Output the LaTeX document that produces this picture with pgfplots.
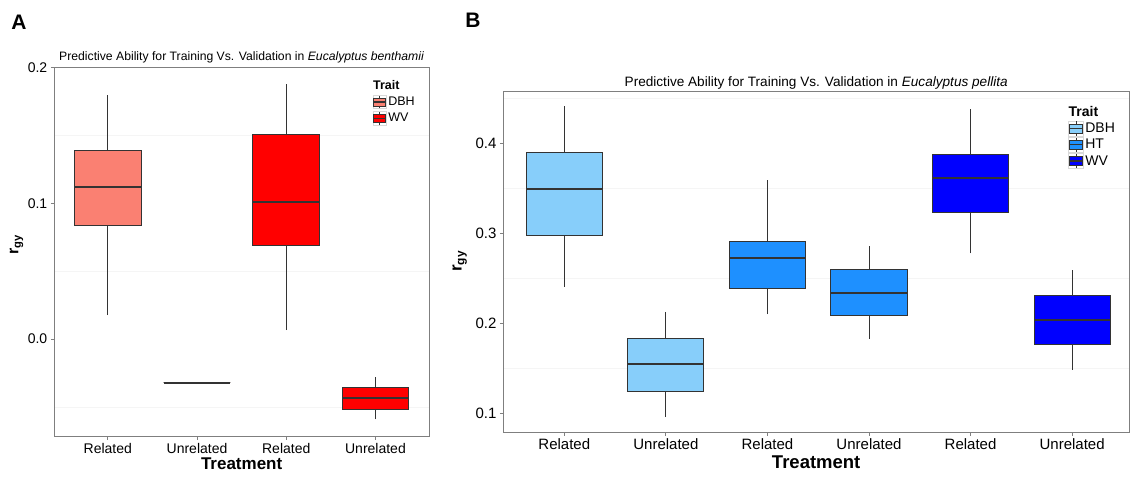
\documentclass[border=0pt]{standalone}
\usepackage{fontspec}
\setmainfont{Liberation Sans}
\usepackage{pgfplots}
\pgfplotsset{compat=1.18}
\usepgfplotslibrary{statistics}

\definecolor{salmon}{HTML}{FA8072}
\definecolor{lsb}{HTML}{87CEFA}
\definecolor{dodger}{HTML}{1E90FF}
\definecolor{bord}{HTML}{333333}
\definecolor{frame}{HTML}{7F7F7F}

\pgfplotsset{
  ggbox/.style={
    scale only axis,
    axis line style={frame, line width=0.8pt},
    tick style={frame, line width=0.8pt},
    tick align=outside, tick pos=left,
    major tick length=3.5pt, minor tick length=0pt,
    yminorgrids=true, ymajorgrids=false,
    minor grid style={black!4, line width=0.6pt},
    yticklabel style={/pgf/number format/.cd, fixed, fixed zerofill, precision=1, assume math mode=true},
    boxplot/draw direction=y,
    boxplot/whisker extend=0,
    boxplot/box extend=0.75,
    boxplot/every median/.style={line width=2pt, draw=bord},
    boxplot/every box/.style={line width=1pt, draw=bord},
    boxplot/every whisker/.style={line width=0.8pt, draw=bord},
    legend cell align=left,
  },
  bx/.style={draw=bord, line width=0.8pt, fill=#1, forget plot},
  legkey/.style args={#1/#2}{legend image code/.code={
    \draw[draw=black!15, fill=white, line width=0.6pt] (0pt,-#2) rectangle (2*#2,#2);
    \draw[draw=bord, fill=#1, line width=0.6pt] (0.12*#2,-0.6*#2) rectangle (1.88*#2,0.6*#2);
    \draw[bord, line width=0.6pt] (#2,-0.95*#2) -- (#2,-0.6*#2) (#2,0.6*#2) -- (#2,0.95*#2);
    \draw[bord, line width=1.2pt] (0.12*#2,0pt) -- (1.88*#2,0pt);
  }},
  legtitle/.style args={#1/#2}{legend image code/.code={
    \path[draw=none, fill=none] (0pt,-#2) rectangle (2*#2,#2);
    \node[overlay, draw=none, fill=none, anchor=west, inner sep=0pt, font=\bfseries#1] at (0pt,0pt) {Trait};
  }},
}

\begin{document}
\begin{tikzpicture}[x=1pt,y=1pt]
\useasboundingbox (0,0) rectangle (1130,477);

\node[font=\bfseries\fontsize{21}{24}\selectfont] at (19,454.5) {A};
\node[font=\bfseries\fontsize{21}{24}\selectfont] at (473,456.5) {B};

% ---------------- Panel A ----------------
\begin{axis}[ggbox,
  at={(54.3pt,41pt)}, anchor=south west,
  width=374.7pt, height=368.7pt,
  xmin=0.4, xmax=4.6, ymin=-0.0713, ymax=0.2,
  xtick={1,2,3,4}, xticklabels={Related,Unrelated,Related,Unrelated},
  ytick={0,0.1,0.2}, minor ytick={-0.05,0.05,0.15},
  tick label style={font=\fontsize{14}{16}\selectfont},
  title={Predictive Ability for Training Vs. Validation in \textit{Eucalyptus benthamii}},
  title style={at={(axis description cs:0.5,1)}, anchor=base, yshift=0.3pt, font=\fontsize{12.2}{14}\selectfont},
  xlabel={Treatment},
  xlabel style={at={(axis description cs:0.5,0)}, anchor=base, yshift=-33.3pt, font=\bfseries\fontsize{17}{19}\selectfont},
  ylabel={r\textsubscript{gy}},
  ylabel style={at={(axis description cs:-0.0961,0.518)}, anchor=base, font=\bfseries\fontsize{16}{18}\selectfont},
  legend style={at={(axis description cs:0.849,0.968)}, anchor=north west, draw=none, fill=none,
    inner sep=0pt, font=\fontsize{12.5}{14}\selectfont, row sep=2pt, nodes={inner sep=1.5pt},
    every text node/.style={xshift=1.5pt}},
]
\addlegendimage{legtitle={\fontsize{12.5}{14}\selectfont}/6.8pt}
\addlegendentry{}
\addlegendimage{legkey=salmon/6.8pt}
\addlegendentry{DBH}
\addlegendimage{legkey=red/6.8pt}
\addlegendentry{WV}

\addplot[bx=salmon, boxplot prepared={draw position=1, lower whisker=0.0174, lower quartile=0.0836, median=0.1118, upper quartile=0.1387, upper whisker=0.1794}] coordinates {};
\addplot[bx=salmon, boxplot prepared={draw position=2, lower whisker=-0.0321, lower quartile=-0.0321, median=-0.0321, upper quartile=-0.0321, upper whisker=-0.0321}] coordinates {};
\addplot[bx=red, boxplot prepared={draw position=3, lower whisker=0.0066, lower quartile=0.0691, median=0.1012, upper quartile=0.1507, upper whisker=0.1875}] coordinates {};
\addplot[bx=red, boxplot prepared={draw position=4, lower whisker=-0.0590, lower quartile=-0.0515, median=-0.0436, upper quartile=-0.0358, upper whisker=-0.0282}] coordinates {};
\end{axis}

% ---------------- Panel B ----------------
\begin{axis}[ggbox,
  at={(503.4pt,45pt)}, anchor=south west,
  width=625.6pt, height=341pt,
  xmin=0.4, xmax=6.56, ymin=0.0789, ymax=0.4578,
  xtick={1,2,3,4,5,6}, xticklabels={Related,Unrelated,Related,Unrelated,Related,Unrelated},
  ytick={0.1,0.2,0.3,0.4}, minor ytick={0.15,0.25,0.35,0.45},
  tick label style={font=\fontsize{15}{17}\selectfont},
  title={Predictive Ability for Training Vs. Validation in \textit{Eucalyptus pellita}},
  title style={at={(axis description cs:0.5,1)}, anchor=base, yshift=-1.5pt, font=\fontsize{13.6}{15}\selectfont},
  xlabel={Treatment},
  xlabel style={at={(axis description cs:0.5,0)}, anchor=base, yshift=-36.3pt, font=\bfseries\fontsize{18.5}{20}\selectfont},
  ylabel={r\textsubscript{gy}},
  ylabel style={at={(axis description cs:-0.0667,0.501)}, anchor=base, font=\bfseries\fontsize{17}{19}\selectfont},
  legend style={at={(axis description cs:0.9025,0.959)}, anchor=north west, draw=none, fill=none,
    inner sep=0pt, font=\fontsize{14}{16}\selectfont, row sep=0.6pt, nodes={inner sep=1.5pt},
    every text node/.style={xshift=1.5pt}},
]
\addlegendimage{legtitle={\fontsize{14}{16}\selectfont}/7.5pt}
\addlegendentry{}
\addlegendimage{legkey=lsb/7.5pt}
\addlegendentry{DBH}
\addlegendimage{legkey=dodger/7.5pt}
\addlegendentry{HT}
\addlegendimage{legkey=blue/7.5pt}
\addlegendentry{WV}

\addplot[bx=lsb, boxplot prepared={draw position=1, lower whisker=0.2404, lower quartile=0.2967, median=0.3485, upper quartile=0.3893, upper whisker=0.4411}] coordinates {};
\addplot[bx=lsb, boxplot prepared={draw position=2, lower whisker=0.0952, lower quartile=0.1244, median=0.1541, upper quartile=0.1833, upper whisker=0.2126}] coordinates {};
\addplot[bx=dodger, boxplot prepared={draw position=3, lower whisker=0.2096, lower quartile=0.2381, median=0.2726, upper quartile=0.2907, upper whisker=0.3589}] coordinates {};
\addplot[bx=dodger, boxplot prepared={draw position=4, lower whisker=0.1826, lower quartile=0.2081, median=0.2337, upper quartile=0.2593, upper whisker=0.2852}] coordinates {};
\addplot[bx=blue, boxplot prepared={draw position=5, lower whisker=0.2774, lower quartile=0.3230, median=0.3611, upper quartile=0.3870, upper whisker=0.4374}] coordinates {};
\addplot[bx=blue, boxplot prepared={draw position=6, lower whisker=0.1481, lower quartile=0.1756, median=0.2033, upper quartile=0.2307, upper whisker=0.2585}] coordinates {};
\end{axis}
\end{tikzpicture}
\end{document}
